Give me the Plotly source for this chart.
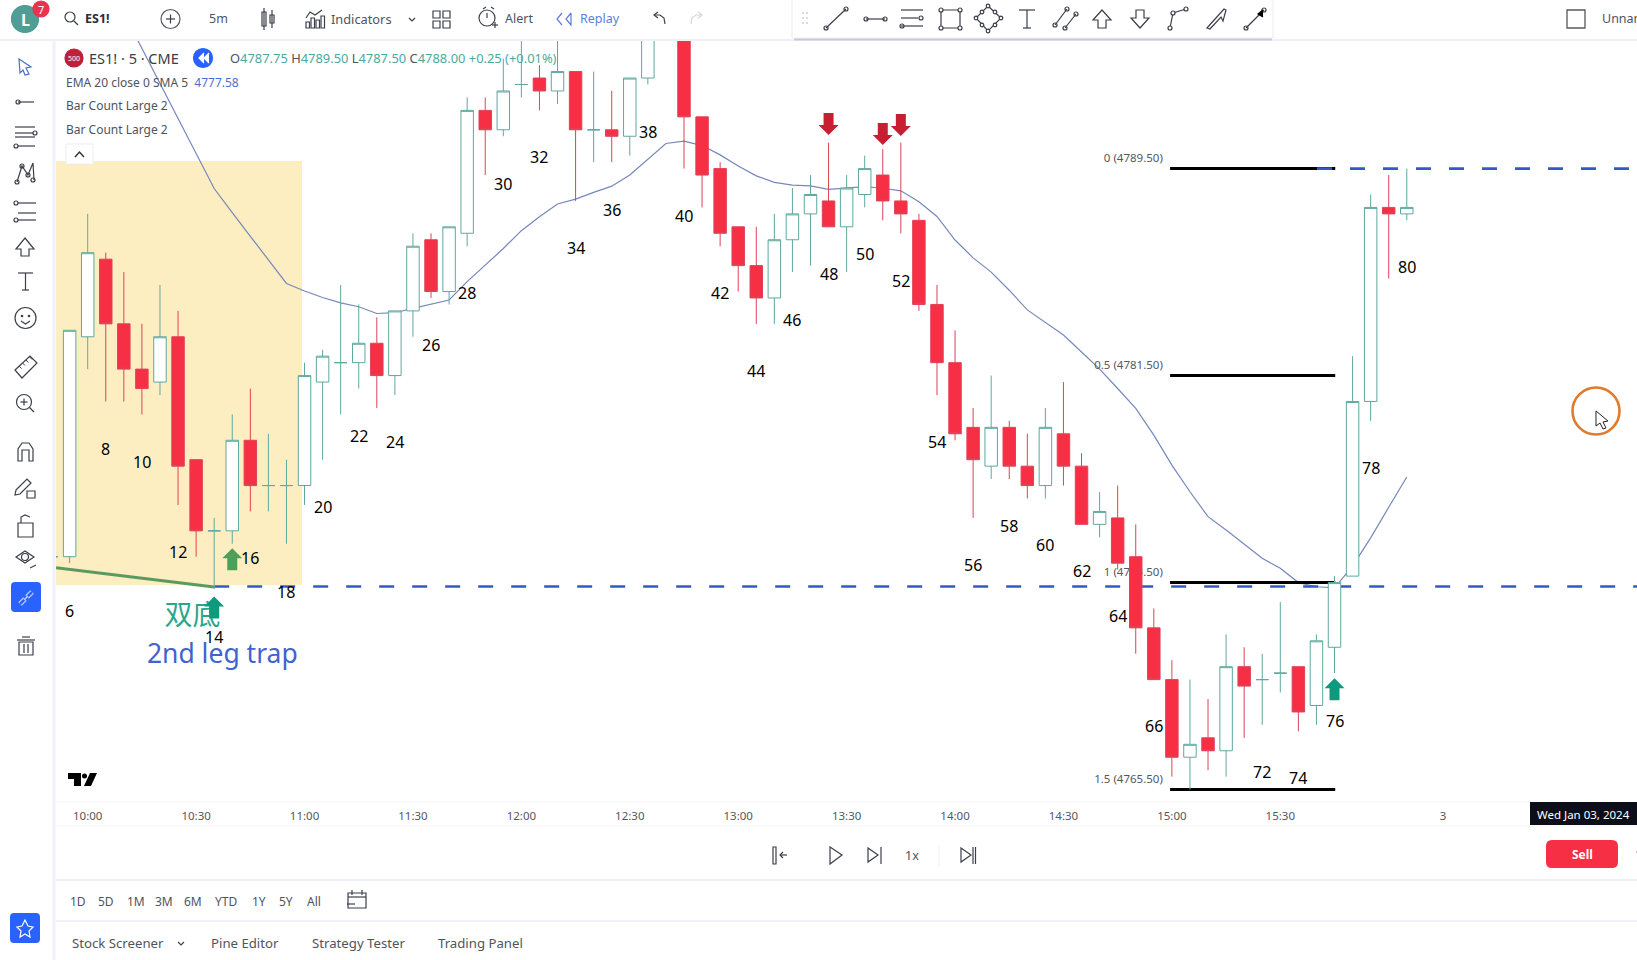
import plotly.graph_objects as go

W, H = 1637, 960

# bar numbers of the session, bar 7 is the 10:00 candle
bars = list(range(5, 81))
opens = [4774.5, 4774.5, 4783, 4786, 4783.5, 4781.75, 4781.25, 4783, 4778.25, 4775.5,
         4775.5, 4779, 4777.25, 4777.25, 4777.25, 4781.25, 4782, 4782, 4782.75, 4781.5,
         4784, 4786.75, 4784.75, 4787, 4791.75, 4791, 4792.75, 4793, 4792.5, 4793.25,
         4791, 4791, 4790.75, 4793, 4795.5, 4797, 4791.5, 4789.5, 4787.25, 4785.75,
         4784.5, 4786.75, 4787.75, 4788.25, 4787.25, 4788.5, 4789.25, 4788.25, 4787.5, 4784.25,
         4782, 4779.5, 4778, 4779.5, 4778, 4777.25, 4779.25, 4778, 4775.75, 4776,
         4774.5, 4771.75, 4769.75, 4766.75, 4767.5, 4767, 4770.25, 4769.75, 4770, 4770.25,
         4768.75, 4771, 4773.75, 4780.5, 4788, 4787.75]
highs = [4775, 4783.25, 4787.75, 4786.25, 4785.5, 4783.5, 4785, 4784, 4778.25, 4776,
         4780, 4781, 4779.25, 4778.25, 4782, 4782.5, 4785, 4784.25, 4783.75, 4784,
         4787, 4787, 4787.25, 4792.25, 4792.25, 4793.75, 4795, 4793.5, 4794.75, 4793.25,
         4793.25, 4792.5, 4793, 4796, 4798, 4797.5, 4791.5, 4789.75, 4787.25, 4787.25,
         4787.75, 4788.75, 4789.25, 4790.5, 4789.25, 4790, 4790.25, 4790.5, 4787.75, 4785,
         4783.25, 4780.25, 4781.5, 4779.75, 4779.25, 4780.25, 4781.25, 4778.5, 4777, 4777.25,
         4775.75, 4772.5, 4770.5, 4769.75, 4769, 4771.5, 4771, 4770.75, 4772.75, 4770.25,
         4771.5, 4773.75, 4782.25, 4788.5, 4789.25, 4789.5]
lows = [4774.25, 4774.25, 4781.75, 4780.5, 4780.5, 4780, 4780.75, 4776.5, 4774.5, 4773.25,
        4775, 4776.25, 4776.25, 4775, 4776.5, 4778.25, 4780, 4781, 4780.25, 4780.75,
        4783, 4784.5, 4784.25, 4786.5, 4789.25, 4790.75, 4792.25, 4791.75, 4792, 4788.25,
        4789.75, 4789.75, 4790, 4792.75, 4795, 4789.5, 4788, 4786.5, 4784.75, 4783.5,
        4783.5, 4785.5, 4785.75, 4787.25, 4785.5, 4788, 4787.5, 4787, 4784, 4780.75,
        4779, 4776, 4777.5, 4777.5, 4776.75, 4776.75, 4777.25, 4775.75, 4775.25, 4774,
        4770.75, 4769.75, 4766, 4765.5, 4766.25, 4766, 4767.5, 4768, 4769.25, 4767.75,
        4768, 4770, 4773.75, 4779.75, 4785.25, 4787.5]
closes = [4774.5, 4783.25, 4786.25, 4783.5, 4781.75, 4781, 4783, 4778, 4775.5, 4775.5,
          4779, 4777.25, 4777.25, 4777.25, 4781.5, 4782.25, 4782, 4782.75, 4781.5, 4784,
          4786.5, 4784.75, 4787.25, 4791.75, 4791, 4792.5, 4792.75, 4792.5, 4793.25, 4791,
          4791, 4790.75, 4793, 4795.5, 4797.5, 4791.5, 4789.25, 4787, 4785.75, 4784.5,
          4786.75, 4787.75, 4788.5, 4787.25, 4788.75, 4789.5, 4788.25, 4787.75, 4784.25, 4782,
          4779.25, 4778.25, 4779.5, 4778, 4777.25, 4779.5, 4778, 4775.75, 4776.25, 4774.25,
          4771.75, 4769.75, 4766.75, 4767.25, 4767, 4770.25, 4769.5, 4769.75, 4770, 4768.5,
          4771.25, 4773.5, 4780.5, 4788, 4787.75, 4788]

ema_bars = list(range(9, 81))
ema_values = [4795.5, 4794.14, 4792.78, 4791.44, 4790.05, 4788.73, 4787.8, 4786.89, 4785.94, 4785.06,
              4784.77, 4784.52, 4784.31, 4784.16, 4783.9, 4783.93, 4784.1, 4784.25, 4784.42, 4785.13,
              4785.77, 4786.41, 4787.1, 4787.64, 4788.13, 4788.32, 4788.58, 4788.82, 4789.25, 4789.85,
              4790.47, 4790.56, 4790.39, 4790.03, 4789.6, 4789.22, 4788.97, 4788.86, 4788.83, 4788.7,
              4788.74, 4788.8, 4788.74, 4788.64, 4788.22, 4787.65, 4786.74, 4786.05, 4785.5, 4784.8,
              4784.04, 4783.57, 4783.07, 4782.41, 4781.75, 4781.0, 4780.23, 4779.2, 4778.04, 4777.01,
              4776.05, 4775.53, 4774.98, 4774.44, 4774.05, 4773.5, 4773.34, 4773.3, 4774.14, 4775.23,
              4776.41, 4777.58]

# numbers printed next to every second bar
label_bars = [6, 8, 10, 12, 14, 16, 18, 20, 22, 24, 26, 28, 30, 32, 34, 36, 38, 40, 42, 44, 46, 48, 50,
              52, 54, 56, 58, 60, 62, 64, 66, 72, 74, 76, 78, 80]
label_prices = [4772.42, 4778.67, 4778.15, 4774.67, 4771.41, 4774.44, 4773.15, 4776.41, 4779.16, 4778.94,
                4782.68, 4784.69, 4788.9, 4789.95, 4786.43, 4787.9, 4790.91, 4787.68, 4784.69, 4781.69,
                4783.66, 4785.42, 4786.19, 4785.17, 4778.95, 4774.17, 4775.7, 4774.96, 4773.94, 4772.19,
                4767.94, 4766.18, 4765.93, 4768.17, 4777.94, 4785.69]

fib_levels = [4789.5, 4781.5, 4773.5, 4765.5]
fib_names = ["0 (4789.50)", "0.5 (4781.50)", "1 (4773.50)", "1.5 (4765.50)"]

tick_bars = [7, 13, 19, 25, 31, 37, 43, 49, 55, 61, 67, 73, 82]
tick_labels = ["10:00", "10:30", "11:00", "11:30", "12:00", "12:30", "13:00", "13:30",
               "14:00", "14:30", "15:00", "15:30", "3"]

# arrows: bar, price of the tip
down_arrow_bars = [48, 51, 52]
down_arrow_prices = [4790.8, 4790.41, 4790.76]
up_arrow_bars = [15, 14, 76]
up_arrow_prices = [4774.83, 4772.96, 4769.8]
up_arrow_colors = ["#4E9F5A", "#0F9A7E", "#0F9A7E"]

X_RANGE = [5.246, 92.74]
Y_RANGE = [4765.02, 4794.47]
X_DOMAIN = [56 / W, 1]
Y_DOMAIN = [1 - 802 / H, 1 - 40 / H]

GREEN = "#5FA89F"
RED = "#F72F45"
RED_LINE = "#DE4258"
ICON = "#3C3F4A"
TEXT = "#50535E"
BLUE = "#2962FF"
DASH = "#3558C8"
UI_FONT = "Noto Sans"

shapes = []
notes = []


def fx(x):
    return x / W


def fy(y):
    return 1 - y / H


def seg(x0, y0, x1, y1, color=ICON, w=1.2):
    shapes.append(dict(type="line", xref="paper", yref="paper", x0=fx(x0), y0=fy(y0), x1=fx(x1), y1=fy(y1),
                       line=dict(color=color, width=w)))


def box(x0, y0, x1, y1, color=ICON, fill=None, w=1.2):
    shapes.append(dict(type="rect", xref="paper", yref="paper", x0=fx(x0), y0=fy(y0), x1=fx(x1), y1=fy(y1),
                       line=dict(color=color, width=w), fillcolor=fill or "rgba(0,0,0,0)"))


def ring(cx, cy, r, color=ICON, fill=None, w=1.2):
    shapes.append(dict(type="circle", xref="paper", yref="paper", x0=fx(cx - r), y0=fy(cy - r), x1=fx(cx + r), y1=fy(cy + r),
                       line=dict(color=color, width=w), fillcolor=fill or "rgba(0,0,0,0)"))


def poly(points, color=ICON, fill=None, w=1.2, closed=False):
    path = "M " + " L ".join(f"{fx(x):.5f},{fy(y):.5f}" for x, y in points) + (" Z" if closed else "")
    shapes.append(dict(type="path", xref="paper", yref="paper", path=path,
                       line=dict(color=color, width=w), fillcolor=fill or "rgba(0,0,0,0)"))


def round_box(x0, y0, x1, y1, r, fill):
    p = lambda x, y: f"{fx(x):.5f},{fy(y):.5f}"
    path = (f"M {p(x0 + r, y0)} L {p(x1 - r, y0)} Q {p(x1, y0)} {p(x1, y0 + r)} L {p(x1, y1 - r)} "
            f"Q {p(x1, y1)} {p(x1 - r, y1)} L {p(x0 + r, y1)} Q {p(x0, y1)} {p(x0, y1 - r)} "
            f"L {p(x0, y0 + r)} Q {p(x0, y0)} {p(x0 + r, y0)} Z")
    shapes.append(dict(type="path", xref="paper", yref="paper", path=path, fillcolor=fill, line=dict(width=0)))


def label(x, y, text, size=12, color=TEXT, anchor="center", font=UI_FONT):
    notes.append(dict(x=fx(x), y=fy(y), xref="paper", yref="paper", text=text, showarrow=False, xanchor=anchor,
                      yanchor="middle", font=dict(family=font, size=size, color=color)))


def handle_line(x0, y0, x1, y1):
    # drawing tool glyph: a line with a small ring on the ends
    seg(x0, y0, x1, y1)
    ring(x0, y0, 2)
    ring(x1, y1, 2)


def block_arrow(bar, price, color, up=True):
    s = 1 if up else -1
    pts = [(0, 0), (10, -10 * s), (5, -10 * s), (5, -22 * s), (-5, -22 * s), (-5, -10 * s), (-10, -10 * s)]
    path = "M " + " L ".join(f"{a},{b}" for a, b in pts) + " Z"
    shapes.append(dict(type="path", xref="x", yref="y", xsizemode="pixel", ysizemode="pixel", xanchor=bar,
                       yanchor=price, path=path, fillcolor=color, line=dict(width=0), layer="above"))


fig = go.Figure()

# highlighted area behind the candles
shapes.append(dict(type="rect", xref="x", yref="y", x0=X_RANGE[0], x1=18.86, y0=4773.41, y1=4789.79,
                   fillcolor="#FDEEC2", line=dict(width=0), layer="below"))

fig.add_trace(go.Scatter(x=ema_bars, y=ema_values, mode="lines", line=dict(color="#7687BC", width=1.2),
                         hoverinfo="skip"))

for level in fib_levels:
    fig.add_trace(go.Scatter(x=[66.9, 76.04], y=[level, level], mode="lines", line=dict(color="#000000", width=3),
                             hoverinfo="skip"))

fig.add_trace(go.Scatter(x=[66.5] * 4, y=[lv + 0.38 for lv in fib_levels], mode="text", text=fib_names,
                         textposition="middle left", textfont=dict(family=UI_FONT, size=11.5, color="#55585F"),
                         hoverinfo="skip"))

fig.add_trace(go.Scatter(x=[14, X_RANGE[1]], y=[4773.35, 4773.35], mode="lines",
                         line=dict(color=DASH, width=2.6, dash="15px,18px"), hoverinfo="skip"))
fig.add_trace(go.Scatter(x=[75.03, 92.4], y=[4789.5, 4789.5], mode="lines",
                         line=dict(color=DASH, width=2.6, dash="15px,18px"), hoverinfo="skip"))
fig.add_trace(go.Scatter(x=[X_RANGE[0], 14], y=[4774.07, 4773.33], mode="lines",
                         line=dict(color="#5B9A5E", width=3), hoverinfo="skip"))

fig.add_trace(go.Scatter(x=[12.8], y=[4772.12], mode="text", text=["双底"], textposition="middle center",
                         textfont=dict(family="Noto Sans CJK SC", size=28, color="#2BA68C"), hoverinfo="skip"))
fig.add_trace(go.Scatter(x=[14.45], y=[4770.63], mode="text", text=["2nd leg trap"], textposition="middle center",
                         textfont=dict(family=UI_FONT, size=26.5, color="#3F63CF"), hoverinfo="skip"))

# candles sit on overlaid axes so they cover the lines and the fib labels
is_red = [c < o for o, c in zip(opens, closes)]
for want_red in (False, True):
    idx = [i for i, r in enumerate(is_red) if r == want_red]
    side = dict(line=dict(color=RED_LINE if want_red else GREEN, width=1),
                fillcolor=RED if want_red else "#FFFFFF")
    fig.add_trace(go.Candlestick(x=[bars[i] for i in idx], open=[opens[i] for i in idx], high=[highs[i] for i in idx],
                                 low=[lows[i] for i in idx], close=[closes[i] for i in idx],
                                 increasing=side, decreasing=side, whiskerwidth=0, xaxis="x2", yaxis="y2",
                                 hoverinfo="skip"))

for bar, price in zip(label_bars, label_prices):
    notes.append(dict(x=bar, y=price, xref="x", yref="y", text=str(bar), showarrow=False,
                      font=dict(family=UI_FONT, size=16, color="#000000")))

for bar, price in zip(down_arrow_bars, down_arrow_prices):
    block_arrow(bar, price, "#C81E32", up=False)
for bar, price, color in zip(up_arrow_bars, up_arrow_prices, up_arrow_colors):
    block_arrow(bar, price, color)

# ---- interface around the chart ----
# frame lines
seg(0, 40, 1637, 40, "#EFF1F6", 2)
seg(54, 40, 54, 960, "#EFF2FA", 3)
seg(56, 802, 1530, 802, "#F3F4F7", 1)
seg(56, 826, 1637, 826, "#F3F4F7", 1)
seg(56, 880, 1637, 880, "#EFF1F6", 2)
seg(56, 921, 1637, 921, "#EFF1F6", 2)

# top bar
ring(25, 19, 13.5, "#4F9D94", "#4F9D94")
label(25, 20, "<b>L</b>", 16, "#FFFFFF")
ring(41, 9, 8, "#E8344E", "#E8344E")
label(41, 9, "7", 11, "#FFFFFF")
ring(70, 17, 5)
seg(74, 21, 78, 25)
label(83, 19, "<b>ES1!</b>", 12.5, "#2A2E39", "left")
ring(170.5, 19, 9.5, "#55585F")
seg(166, 19, 175, 19)
seg(170.5, 14.5, 170.5, 23.5)
label(218.5, 19, "5m", 12.5)
box(262, 12, 266, 26)
seg(264, 8, 264, 30)
box(270, 15, 274, 23)
seg(272, 10, 272, 28)
poly([(306, 18), (310, 12), (315, 15), (322, 10)])
for bx, bh in zip([306, 311, 316, 321], [6, 10, 8, 12]):
    box(bx, 28 - bh, bx + 3.5, 28)
label(361, 19, "Indicators", 12.8)
poly([(409, 18), (412, 21), (415, 18)])
for gx, gy in [(433, 11), (443, 11), (433, 21), (443, 21)]:
    box(gx, gy, gx + 7, gy + 7)
ring(487, 18, 8)
seg(483, 9, 486, 7)
seg(491, 7, 494, 9)
seg(487, 13, 487, 18)
seg(492, 25, 498, 25)
seg(495, 22, 495, 28)
label(519, 19, "Alert", 12.5)
poly([(562, 13), (557, 19), (562, 25)], "#5B7FD6")
poly([(571, 13), (566, 19), (571, 25), (571, 13)], "#5B7FD6")
label(600, 19, "Replay", 12.5, "#5B7FD6")
poly([(655, 15), (660, 15), (664, 18), (665, 24)])
poly([(658, 12), (654, 15), (658, 18)])
poly([(701, 15), (696, 15), (692, 18), (691, 24)], "#D5D6DB")
poly([(698, 12), (702, 15), (698, 18)], "#D5D6DB")

# floating drawing toolbar
box(792, -2, 1273, 38, "#ECEDF0", "#FFFFFF", 1)
seg(794, 39.5, 1272, 39.5, "#C9CAD1", 2)
for dx in (803, 807):
    for dy in (13, 18, 23):
        ring(dx, dy, 0.8, "#C9CAD0", "#C9CAD0", 0.5)
handle_line(826, 28, 846, 9)
handle_line(866, 19, 885, 19)
seg(901, 10, 923, 10)
seg(901, 18, 918, 18)
ring(921, 18, 2)
seg(901, 26, 923, 26)
ring(902, 26, 2)
box(941, 10, 960, 28)
for cx, cy in [(941, 10), (960, 10), (941, 28), (960, 28)]:
    ring(cx, cy, 2, fill="#FFFFFF")
poly([(988, 6), (1001, 18), (988, 31), (976, 18)], closed=True)
for cx, cy in [(988, 6), (1001, 18), (988, 31), (976, 18), (982, 12), (995, 12), (982, 25), (995, 25)]:
    ring(cx, cy, 1.8, fill="#FFFFFF")
seg(1019, 10, 1035, 10)
seg(1027, 10, 1027, 28)
seg(1023, 28, 1031, 28)
handle_line(1055, 25, 1067, 9)
handle_line(1065, 28, 1076, 14)
poly([(1102, 10), (1111, 20), (1106, 20), (1106, 28), (1098, 28), (1098, 20), (1093, 20)], closed=True)
poly([(1140, 28), (1149, 18), (1144, 18), (1144, 10), (1136, 10), (1136, 18), (1131, 18)], closed=True)
poly([(1170, 28), (1173, 13), (1186, 9)])
ring(1170, 28, 2, fill="#FFFFFF")
ring(1173, 13, 2, fill="#FFFFFF")
ring(1186, 9, 2, fill="#FFFFFF")
poly([(1207, 28), (1224, 9), (1226, 10), (1223, 21), (1221, 17), (1210, 29)], closed=True)
handle_line(1246, 28, 1264, 10)
poly([(1263, 10), (1258, 14), (1263, 17)], "#000000", "#000000")

# top right
box(1567, 10, 1585, 28, "#55585F", None, 1.3)
label(1600, 19, "Unnamed", 12.5, TEXT, "left")

# left toolbar
poly([(19, 59), (31, 67), (26, 68), (29, 74), (25, 75), (23, 70), (20, 73)], "#4C6FCF", closed=True)
seg(18, 102, 34, 102)
ring(18, 102, 2)
for ly in (127, 137):
    seg(15, ly, 35, ly)
ring(35, 133, 2)
seg(15, 133, 33, 133)
seg(18, 146, 35, 146)
ring(16, 146, 2)
poly([(17, 182), (22, 166), (28, 175), (33, 163), (34, 180)])
for cx, cy in [(17, 182), (22, 166), (28, 175), (33, 180)]:
    ring(cx, cy, 2)
for ly in (203, 213, 220):
    seg(18, ly, 36, ly)
ring(16, 203, 2)
ring(16, 220, 2)
poly([(25, 238), (34, 249), (29, 249), (29, 256), (21, 256), (21, 249), (16, 249)], closed=True)
seg(18, 273, 33, 273)
seg(25.5, 273, 25.5, 290)
seg(22, 290, 29, 290)
ring(25.5, 318, 10.5)
ring(22, 316, 0.7, fill=ICON)
ring(29, 316, 0.7, fill=ICON)
poly([(21, 321), (25.5, 324), (30, 321)])
poly([(15, 370), (30, 356), (37, 363), (22, 378)], closed=True)
for tx, ty in [(19, 366), (22.5, 363), (26, 360), (29.5, 357)]:
    seg(tx, ty, tx + 2.5, ty + 2.5, ICON, 1)
ring(24, 402, 7.5)
seg(29.5, 407.5, 34, 412)
seg(20.5, 402, 27.5, 402)
seg(24, 398.5, 24, 405.5)
poly([(18, 461), (18, 449), (22, 443), (29, 443), (33, 449), (33, 461), (29, 461), (29, 450), (22, 450), (22, 461)], closed=True)
poly([(16, 490), (27, 479), (31, 483), (20, 494), (15, 495)], closed=True)
box(27, 491, 35, 498)
box(18, 523, 33, 537)
poly([(21, 523), (21, 517), (25, 515), (30, 517)])
poly([(16, 557), (25, 551), (34, 557), (25, 563)], closed=True)
ring(25, 557, 3.5)
seg(30, 568, 36, 565)
round_box(11, 582, 41, 612, 4, BLUE)
for x0, y0, x1, y1 in [(20, 604, 25, 599), (27, 597, 32, 592)]:
    seg(x0, y0, x1, y1, "#C5D5FF", 5)
    seg(x0, y0, x1, y1, BLUE, 2.5)
seg(24, 600, 28, 596, "#C5D5FF", 1.2)
box(19, 642, 33, 655)
seg(17, 640, 35, 640)
seg(22, 637, 30, 637)
seg(24, 644, 24, 653)
seg(28, 644, 28, 653)
round_box(10, 913, 40, 943, 4, BLUE)
poly([(25, 920), (28, 926), (33, 927), (29, 931), (30, 937), (25, 934), (20, 937), (21, 931), (17, 927), (22, 926)],
     "#FFFFFF", closed=True)

# chart legend
ring(74, 58, 9, "#B91C32", "#C0213A")
label(74, 58, "500", 7, "#FFFFFF")
label(87, 58, "ES1! · 5 · CME", 14.5, "#3A3D46", "left")
ring(203, 58, 9.5, BLUE, BLUE)
poly([(204, 53), (199, 58), (204, 63)], "#FFFFFF", "#FFFFFF")
poly([(209, 53), (204, 58), (209, 63)], "#FFFFFF", "#FFFFFF")
teal = '<span style="color:#4BAA9B">%s</span>'
ohlc_text = ("O" + teal % "4787.75" + " H" + teal % "4789.50" + " L" + teal % "4787.50" + " C" + teal % "4788.00"
             + " " + teal % "+0.25 (+0.01%)")
label(228, 58, ohlc_text, 12.9, TEXT, "left")
label(64, 82, 'EMA 20 close 0 SMA 5  <span style="color:#4C6FCF">4777.58</span>', 12, TEXT, "left")
label(64, 106, "Bar Count Large 2", 12, TEXT, "left")
label(64, 130, "Bar Count Large 2", 12, TEXT, "left")
box(66, 144, 93, 164, "#ECEDF1", "#FFFFFF", 1)
poly([(75, 157), (79.5, 152), (84, 157)], "#2A2E39", None, 1.4)

# logo
poly([(68, 773), (81, 773), (81, 786), (74, 786), (74, 779), (68, 779)], "#000000", "#000000", 0, True)
ring(84.5, 776, 2.5, "#000000", "#000000", 0)
poly([(90, 773), (97, 773), (91, 786), (84, 786)], "#000000", "#000000", 0, True)

# crosshair date tag
box(1530, 802, 1637, 825, "#0C0F1A", "#0C0F1A", 0)
label(1583, 814, "Wed Jan 03, 2024", 11.5, "#FFFFFF")

# replay controls
box(773, 847, 776, 864)
poly([(787, 855), (780, 855)])
poly([(783, 852), (780, 855), (783, 858)])
poly([(830, 847), (842, 855), (830, 864)], closed=True)
poly([(868, 848), (878, 855), (868, 862)], closed=True)
seg(881, 847, 881, 864)
label(912, 855, "1x", 12.5)
seg(939, 845, 939, 866, "#F0F1F4", 1)
poly([(961, 848), (971, 855), (961, 862)], closed=True)
seg(973, 847, 973, 864)
seg(975.5, 847, 975.5, 864)
round_box(1546, 840, 1618, 868, 6, "#F72F45")
label(1582, 854, "<b>Sell</b>", 12, "#FFFFFF")
label(1633, 854, "1", 12, TEXT, "left")

# range row
for lx, txt in zip([78, 106, 135.5, 164, 193, 226, 259, 286, 314],
                   ["1D", "5D", "1M", "3M", "6M", "YTD", "1Y", "5Y", "All"]):
    label(lx, 901, txt, 12)
box(348, 893, 366, 908)
seg(348, 897, 366, 897)
seg(352, 890, 352, 895)
seg(362, 890, 362, 895)
seg(347, 904, 355, 904)

# bottom tabs
for lx, txt in zip([118, 245, 358, 480], ["Stock Screener", "Pine Editor", "Strategy Tester", "Trading Panel"]):
    label(lx, 943, txt, 13.2)
poly([(178, 942), (181, 945), (184, 942)])

# mouse highlight
ring(1596, 411, 23.5, "#E07B2E", None, 2.6)
poly([(1596, 411), (1596, 426), (1600, 423), (1603, 429), (1606, 428), (1603, 422), (1608, 421)], "#222222", "#FFFFFF", 1, True)

axis_common = dict(range=X_RANGE, domain=X_DOMAIN, showgrid=False, zeroline=False, rangeslider=dict(visible=False))

fig.update_layout(
    width=W, height=H,
    margin=dict(l=0, r=0, t=0, b=0),
    paper_bgcolor="#FFFFFF", plot_bgcolor="rgba(0,0,0,0)",
    showlegend=False,
    hovermode=False,
    boxgap=0.31, boxgroupgap=0,
    font=dict(family=UI_FONT),
    xaxis=dict(tickmode="array", tickvals=tick_bars, ticktext=tick_labels, ticks="", ticklabelstandoff=5,
               tickfont=dict(family=UI_FONT, size=11.5, color="#55585F"), showline=False, **axis_common),
    yaxis=dict(range=Y_RANGE, domain=Y_DOMAIN, showgrid=False, zeroline=False, showticklabels=False, ticks=""),
    xaxis2=dict(overlaying="x", visible=False, **axis_common),
    yaxis2=dict(overlaying="y", range=Y_RANGE, domain=Y_DOMAIN, visible=False, showgrid=False, zeroline=False),
    shapes=shapes,
    annotations=notes,
)

fig.write_html("out.html", config=dict(displayModeBar=False), post_script="document.body.style.margin='0';")
